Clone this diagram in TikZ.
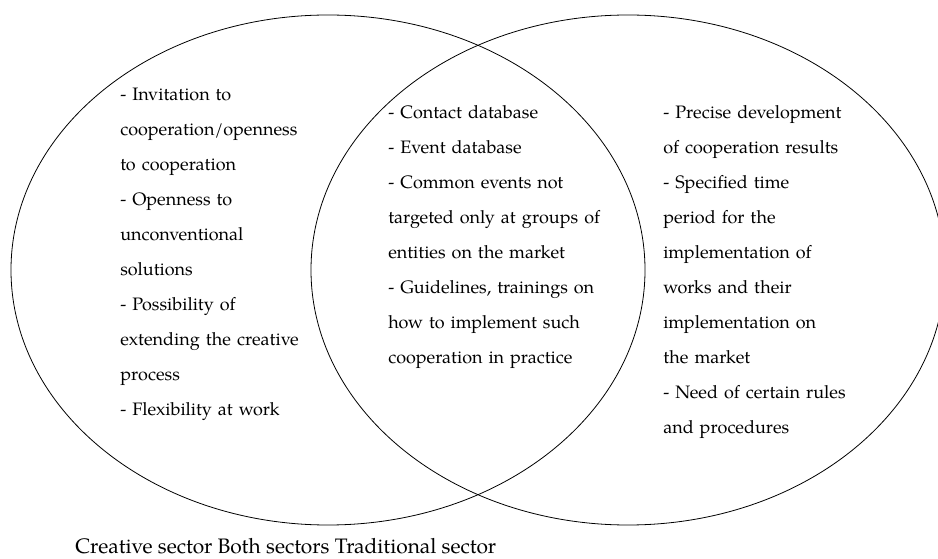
\documentclass[tikz,border=0pt]{standalone}
\usepackage{fontspec}
\setmainfont{TeX Gyre Pagella}
\begin{document}
\begin{tikzpicture}[x=0.75pt,y=-0.75pt,
  venn/.style={draw=black,line width=0.6pt},
  itemtext/.style={anchor=base west,inner sep=0pt,text width=230pt,align=left,
    font=\fontsize{13.5pt}{26.25pt}\selectfont},
  captext/.style={anchor=base west,inner sep=0pt,font=\fontsize{15.7pt}{18pt}\selectfont}]
\useasboundingbox (0,0) rectangle (938,559);
\draw[venn] (328,270) ellipse [x radius=317, y radius=255];
\draw[venn] (628,270) ellipse [x radius=317, y radius=255];
\node[itemtext] (creative) at (120,101) {- Invitation to\\cooperation/openness\\to cooperation\\- Openness to\\unconventional\\solutions\\- Possibility of\\extending the creative\\process\\- Flexibility at work};
\node[itemtext] (both) at (388,119) {- Contact database\\- Event database\\- Common events not\\targeted only at groups of\\entities on the market\\- Guidelines, trainings on\\how to implement such\\cooperation in practice};
\node[itemtext] (traditional) at (663,119) {- Precise development\\of cooperation results\\- Specified time\\period for the\\implementation of\\works and their\\implementation on\\the market\\- Need of certain rules\\and procedures};
\node[captext] (caption) at (75,553) {Creative sector Both sectors Traditional sector};
\end{tikzpicture}
\end{document}
